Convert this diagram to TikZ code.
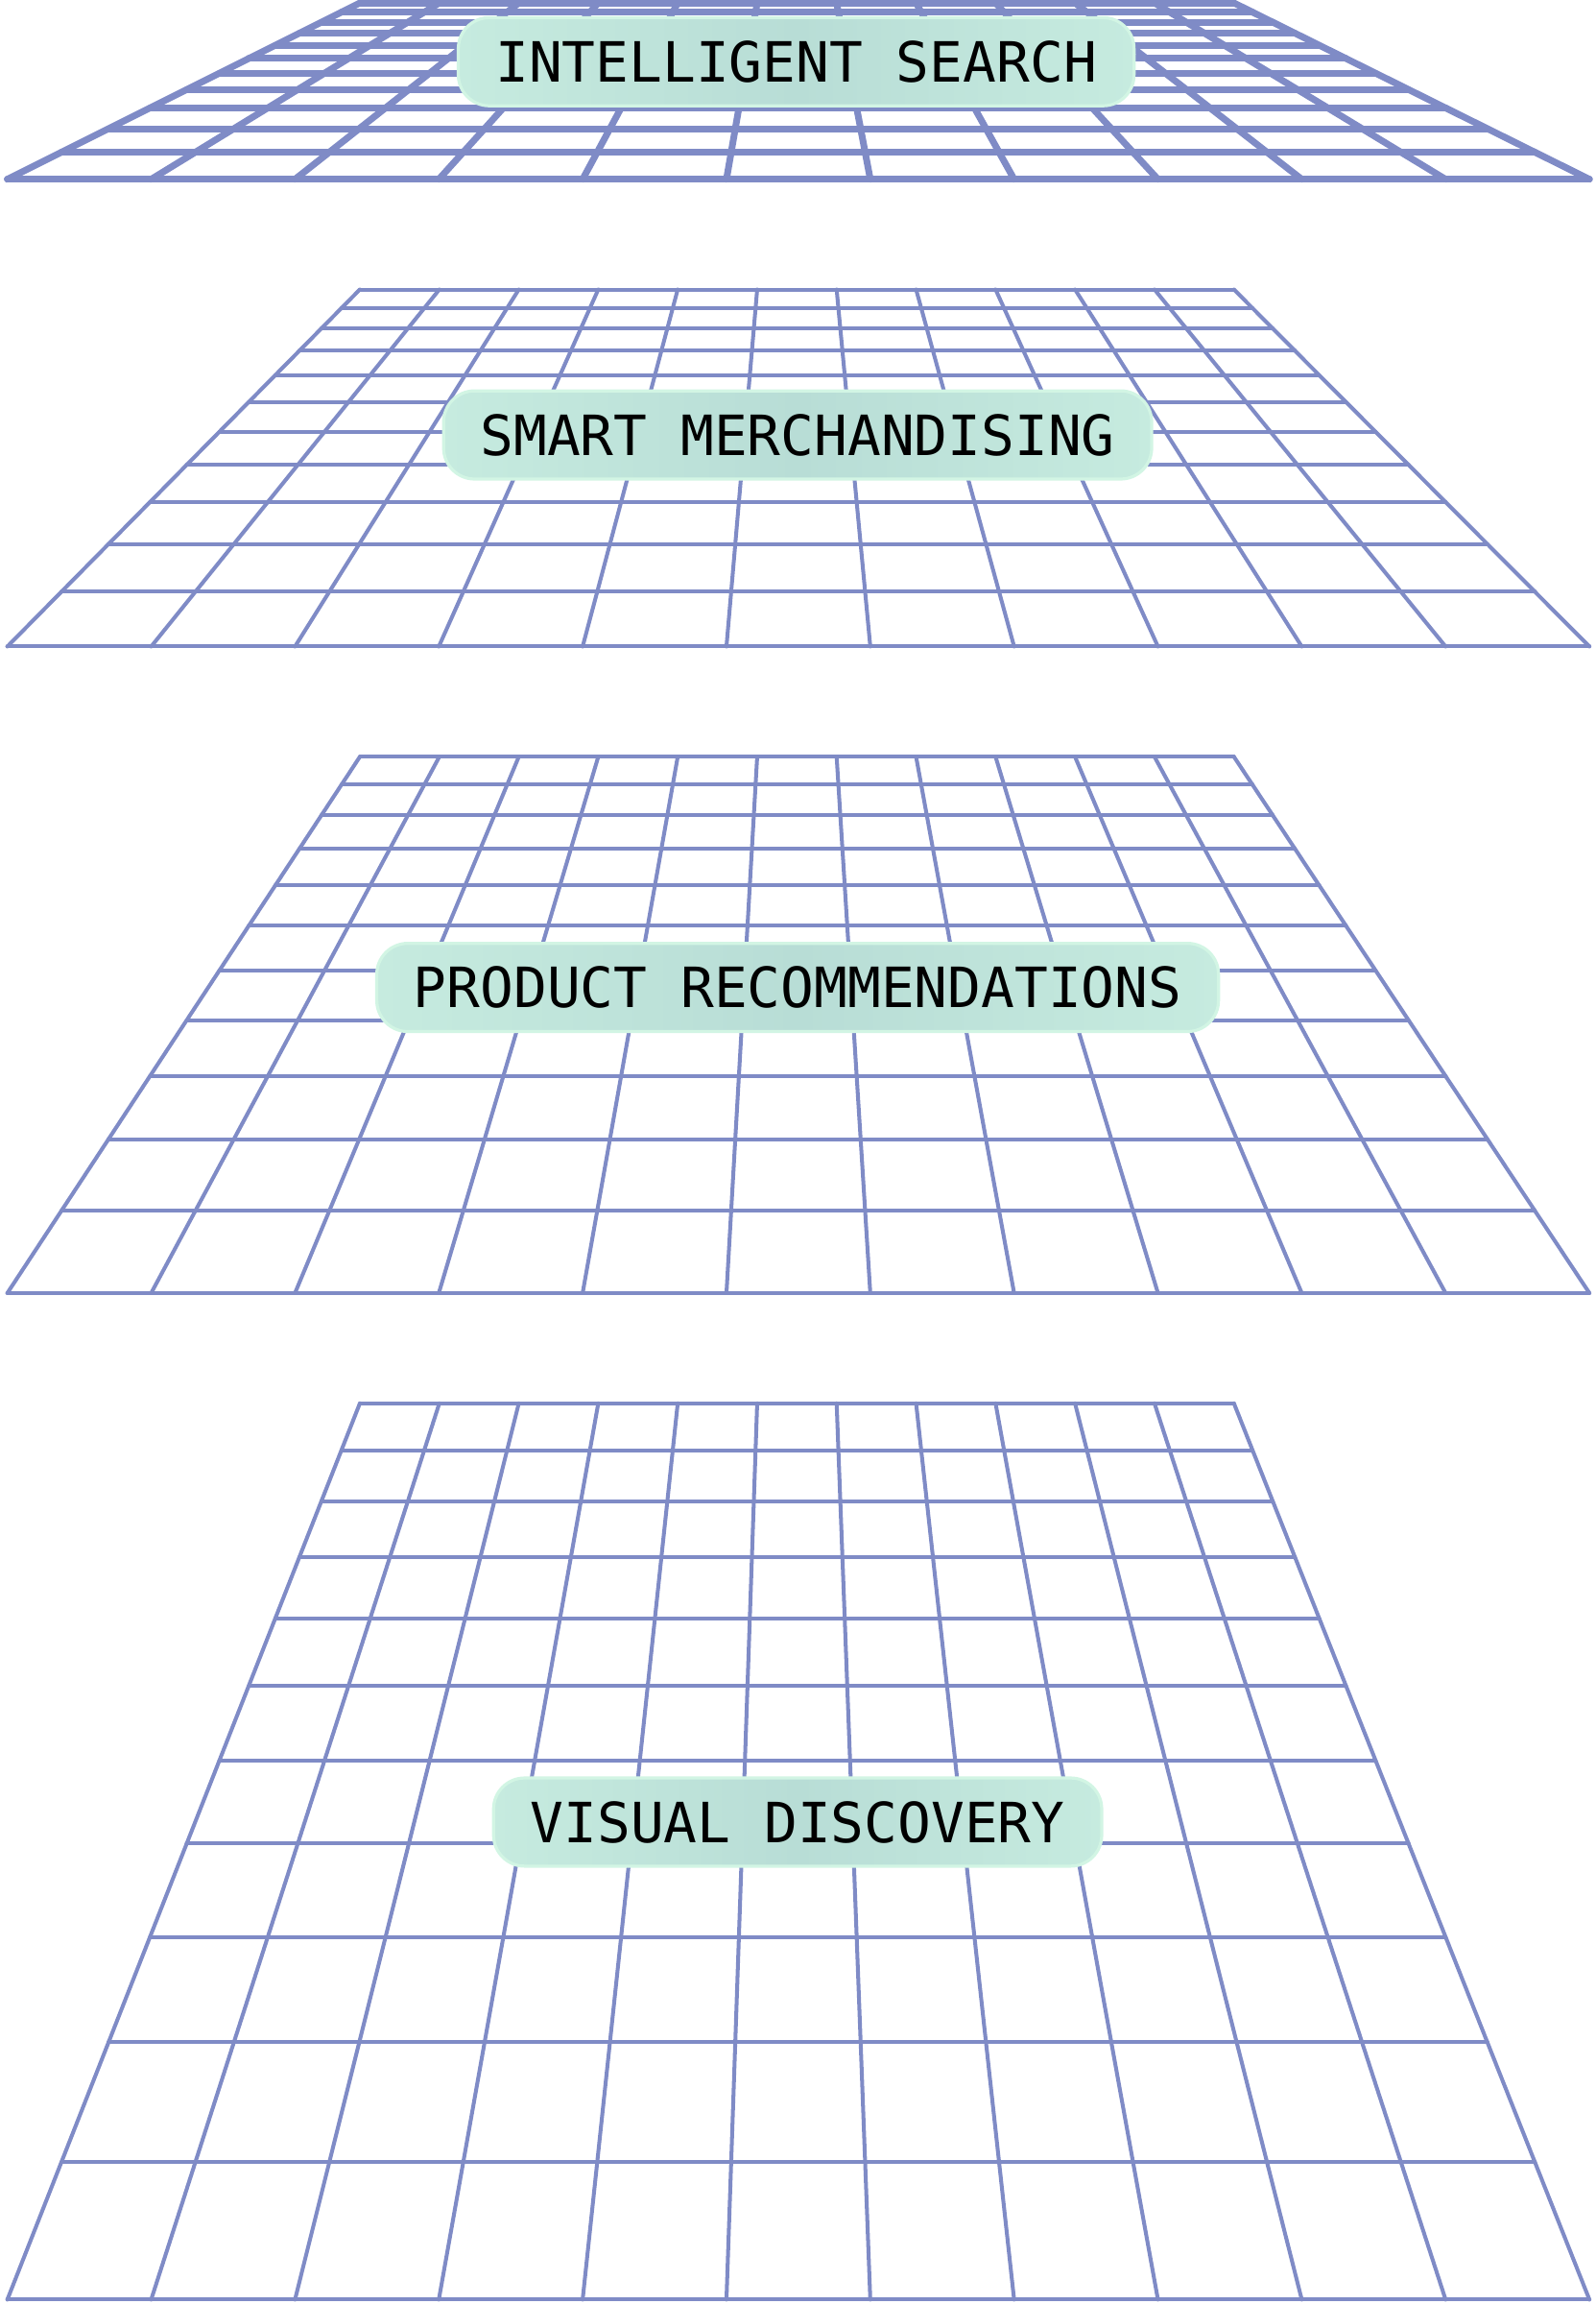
\documentclass[tikz,border=0pt]{standalone}
\usepackage{fontspec}
\setmonofont{DejaVu Sans Mono}
\begin{document}
\begin{tikzpicture}[x=0.02cm,y=-0.02cm,
  gl/.style={draw=gridc,line join=round,line cap=round},
  lab/.style={rounded corners=12,draw=boxb,line width=1.2pt,left color=boxa,right color=boxa,middle color=boxc,
    font=\ttfamily\fontsize{21.5}{24}\selectfont,text=black,inner sep=0pt}]
\definecolor{gridc}{HTML}{7F8BC6}
\definecolor{boxa}{HTML}{C6EBDF}
\definecolor{boxc}{HTML}{B8DDD6}
\definecolor{boxb}{HTML}{D2F5E4}
\useasboundingbox (0,0) rectangle (1086,1568);
\newcommand\pgrid[3]{%
  \foreach \j in {0,...,11}{%
    \pgfmathsetmacro\zz{1-0.448*\j/11}%
    \pgfmathsetmacro\uu{(1/\zz-1)/(1/0.552-1)}%
    \pgfmathsetmacro\yy{#1+\uu*(#2-#1)}%
    \pgfmathsetmacro\xl{245-240*\uu}%
    \pgfmathsetmacro\xr{840+242*\uu}%
    \draw[gl,line width=#3] (\xl,\yy)--(\xr,\yy);}
  \foreach \i in {0,...,11}{%
    \draw[gl,line width=#3] ({245+\i*595/11},#1)--({5+\i*1077/11},#2);}%
}
\pgrid{2}{122}{2.6pt}
\pgrid{197}{440}{1.5pt}
\pgrid{515}{880}{1.5pt}
\pgrid{955}{1565}{1.5pt}
\node[lab,minimum width=460*0.02cm,minimum height=60*0.02cm] (l1) at (542,42) {INTELLIGENT SEARCH};
\node[lab,minimum width=482*0.02cm,minimum height=60*0.02cm] (l2) at (543,296) {SMART MERCHANDISING};
\node[lab,minimum width=573*0.02cm,minimum height=60*0.02cm] (l3) at (543,672) {PRODUCT RECOMMENDATIONS};
\node[lab,minimum width=414*0.02cm,minimum height=60*0.02cm] (l4) at (543,1240) {VISUAL DISCOVERY};
\end{tikzpicture}
\end{document}
